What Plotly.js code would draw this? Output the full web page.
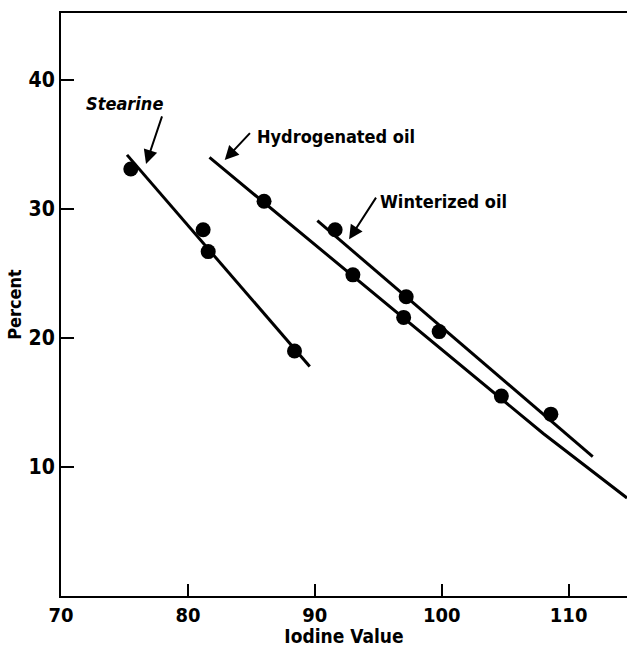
<!DOCTYPE html>
<html>
<head>
<meta charset="utf-8">
<script src="https://cdn.plot.ly/plotly-3.0.1.min.js"></script>
<style>html,body{margin:0;padding:0;background:#fff;}#chart{width:627px;height:647px;}</style>
</head>
<body>
<div id="chart"></div>
<script>
// Data points
const stearineX = [75.5, 81.2, 81.6, 88.4];
const stearineY = [33.1, 28.4, 26.7, 19.0];
const hydrogenatedX = [86.0, 93.0, 97.0, 104.7];
const hydrogenatedY = [30.6, 24.9, 21.6, 15.5];
const winterizedX = [91.6, 97.2, 99.8, 108.6];
const winterizedY = [28.4, 23.2, 20.5, 14.1];

// Fitted lines (endpoints)
const stearineLineX = [75.2, 89.6];
const stearineLineY = [34.2, 17.8];
const hydrogenatedLineX = [81.7, 108.0, 114.6];
const hydrogenatedLineY = [34.0, 12.6, 7.6];
const winterizedLineX = [90.2, 111.9];
const winterizedLineY = [29.1, 10.8];

const xTicks = [70, 80, 90, 100, 110];
const yTicks = [10, 20, 30, 40];

const FONT = '"DejaVu Sans Condensed", "Liberation Sans Narrow", "Liberation Sans", sans-serif';

function lineTrace(x, y) {
  return {x: x, y: y, mode: 'lines', type: 'scatter', line: {color: '#000', width: 3}, hoverinfo: 'skip', showlegend: false};
}
function pointTrace(x, y) {
  return {x: x, y: y, mode: 'markers', type: 'scatter', marker: {color: '#000', size: 15}, showlegend: false};
}

const data = [
  lineTrace(stearineLineX, stearineLineY),
  lineTrace(hydrogenatedLineX, hydrogenatedLineY),
  lineTrace(winterizedLineX, winterizedLineY),
  pointTrace(stearineX, stearineY),
  pointTrace(hydrogenatedX, hydrogenatedY),
  pointTrace(winterizedX, winterizedY)
];

const annFont = {family: FONT, size: 18, color: '#000', weight: 'bold'};

const layout = {
  width: 627, height: 647,
  margin: {l: 61, r: 0, t: 13, b: 51},
  paper_bgcolor: '#fff', plot_bgcolor: '#fff',
  font: {family: FONT, color: '#000'},
  showlegend: false,
  xaxis: {
    range: [70, 114.6], tickvals: xTicks, ticktext: xTicks.map(String),
    ticks: 'inside', ticklen: 12, tickwidth: 2, tickcolor: '#000',
    showline: true, linecolor: '#000', linewidth: 2, mirror: true,
    showgrid: false, zeroline: false,
    tickfont: {family: FONT, size: 20, color: '#000', weight: 'bold'},
    title: {text: 'Iodine Value', font: {family: FONT, size: 19, color: '#000', weight: 'bold'}, standoff: 5}
  },
  yaxis: {
    range: [0, 45.2], tickvals: yTicks, ticktext: yTicks.map(String),
    ticks: 'inside', ticklen: 13, tickwidth: 2, tickcolor: '#000',
    showline: true, linecolor: '#000', linewidth: 2,
    showgrid: false, zeroline: false,
    tickfont: {family: FONT, size: 21, color: '#000', weight: 'bold'},
    title: {text: 'Percent', font: {family: FONT, size: 18, color: '#000', weight: 'bold'}, standoff: 2}
  },
  annotations: [
    {x: 75.0, y: 38.2, xref: 'x', yref: 'y', text: '<i>Stearine</i>', showarrow: false, font: annFont, xanchor: 'center', yanchor: 'middle'},
    {x: 76.7, y: 33.5, ax: 78.0, ay: 37.3, axref: 'x', ayref: 'y', xref: 'x', yref: 'y', text: '', showarrow: true, arrowhead: 2, arrowsize: 1.4, arrowwidth: 2, arrowcolor: '#000'},
    {x: 85.3, y: 35.6, xref: 'x', yref: 'y', text: 'Hydrogenated oil', showarrow: false, font: annFont, xanchor: 'left', yanchor: 'middle'},
    {x: 82.9, y: 33.8, ax: 85.0, ay: 36.0, axref: 'x', ayref: 'y', xref: 'x', yref: 'y', text: '', showarrow: true, arrowhead: 2, arrowsize: 1.4, arrowwidth: 2, arrowcolor: '#000'},
    {x: 95.0, y: 30.6, xref: 'x', yref: 'y', text: 'Winterized oil', showarrow: false, font: annFont, xanchor: 'left', yanchor: 'middle'},
    {x: 92.7, y: 27.65, ax: 94.9, ay: 31.0, axref: 'x', ayref: 'y', xref: 'x', yref: 'y', text: '', showarrow: true, arrowhead: 2, arrowsize: 1.4, arrowwidth: 2, arrowcolor: '#000'}
  ]
};

Plotly.newPlot('chart', data, layout, {displayModeBar: false, staticPlot: true});
</script>
</body>
</html>
